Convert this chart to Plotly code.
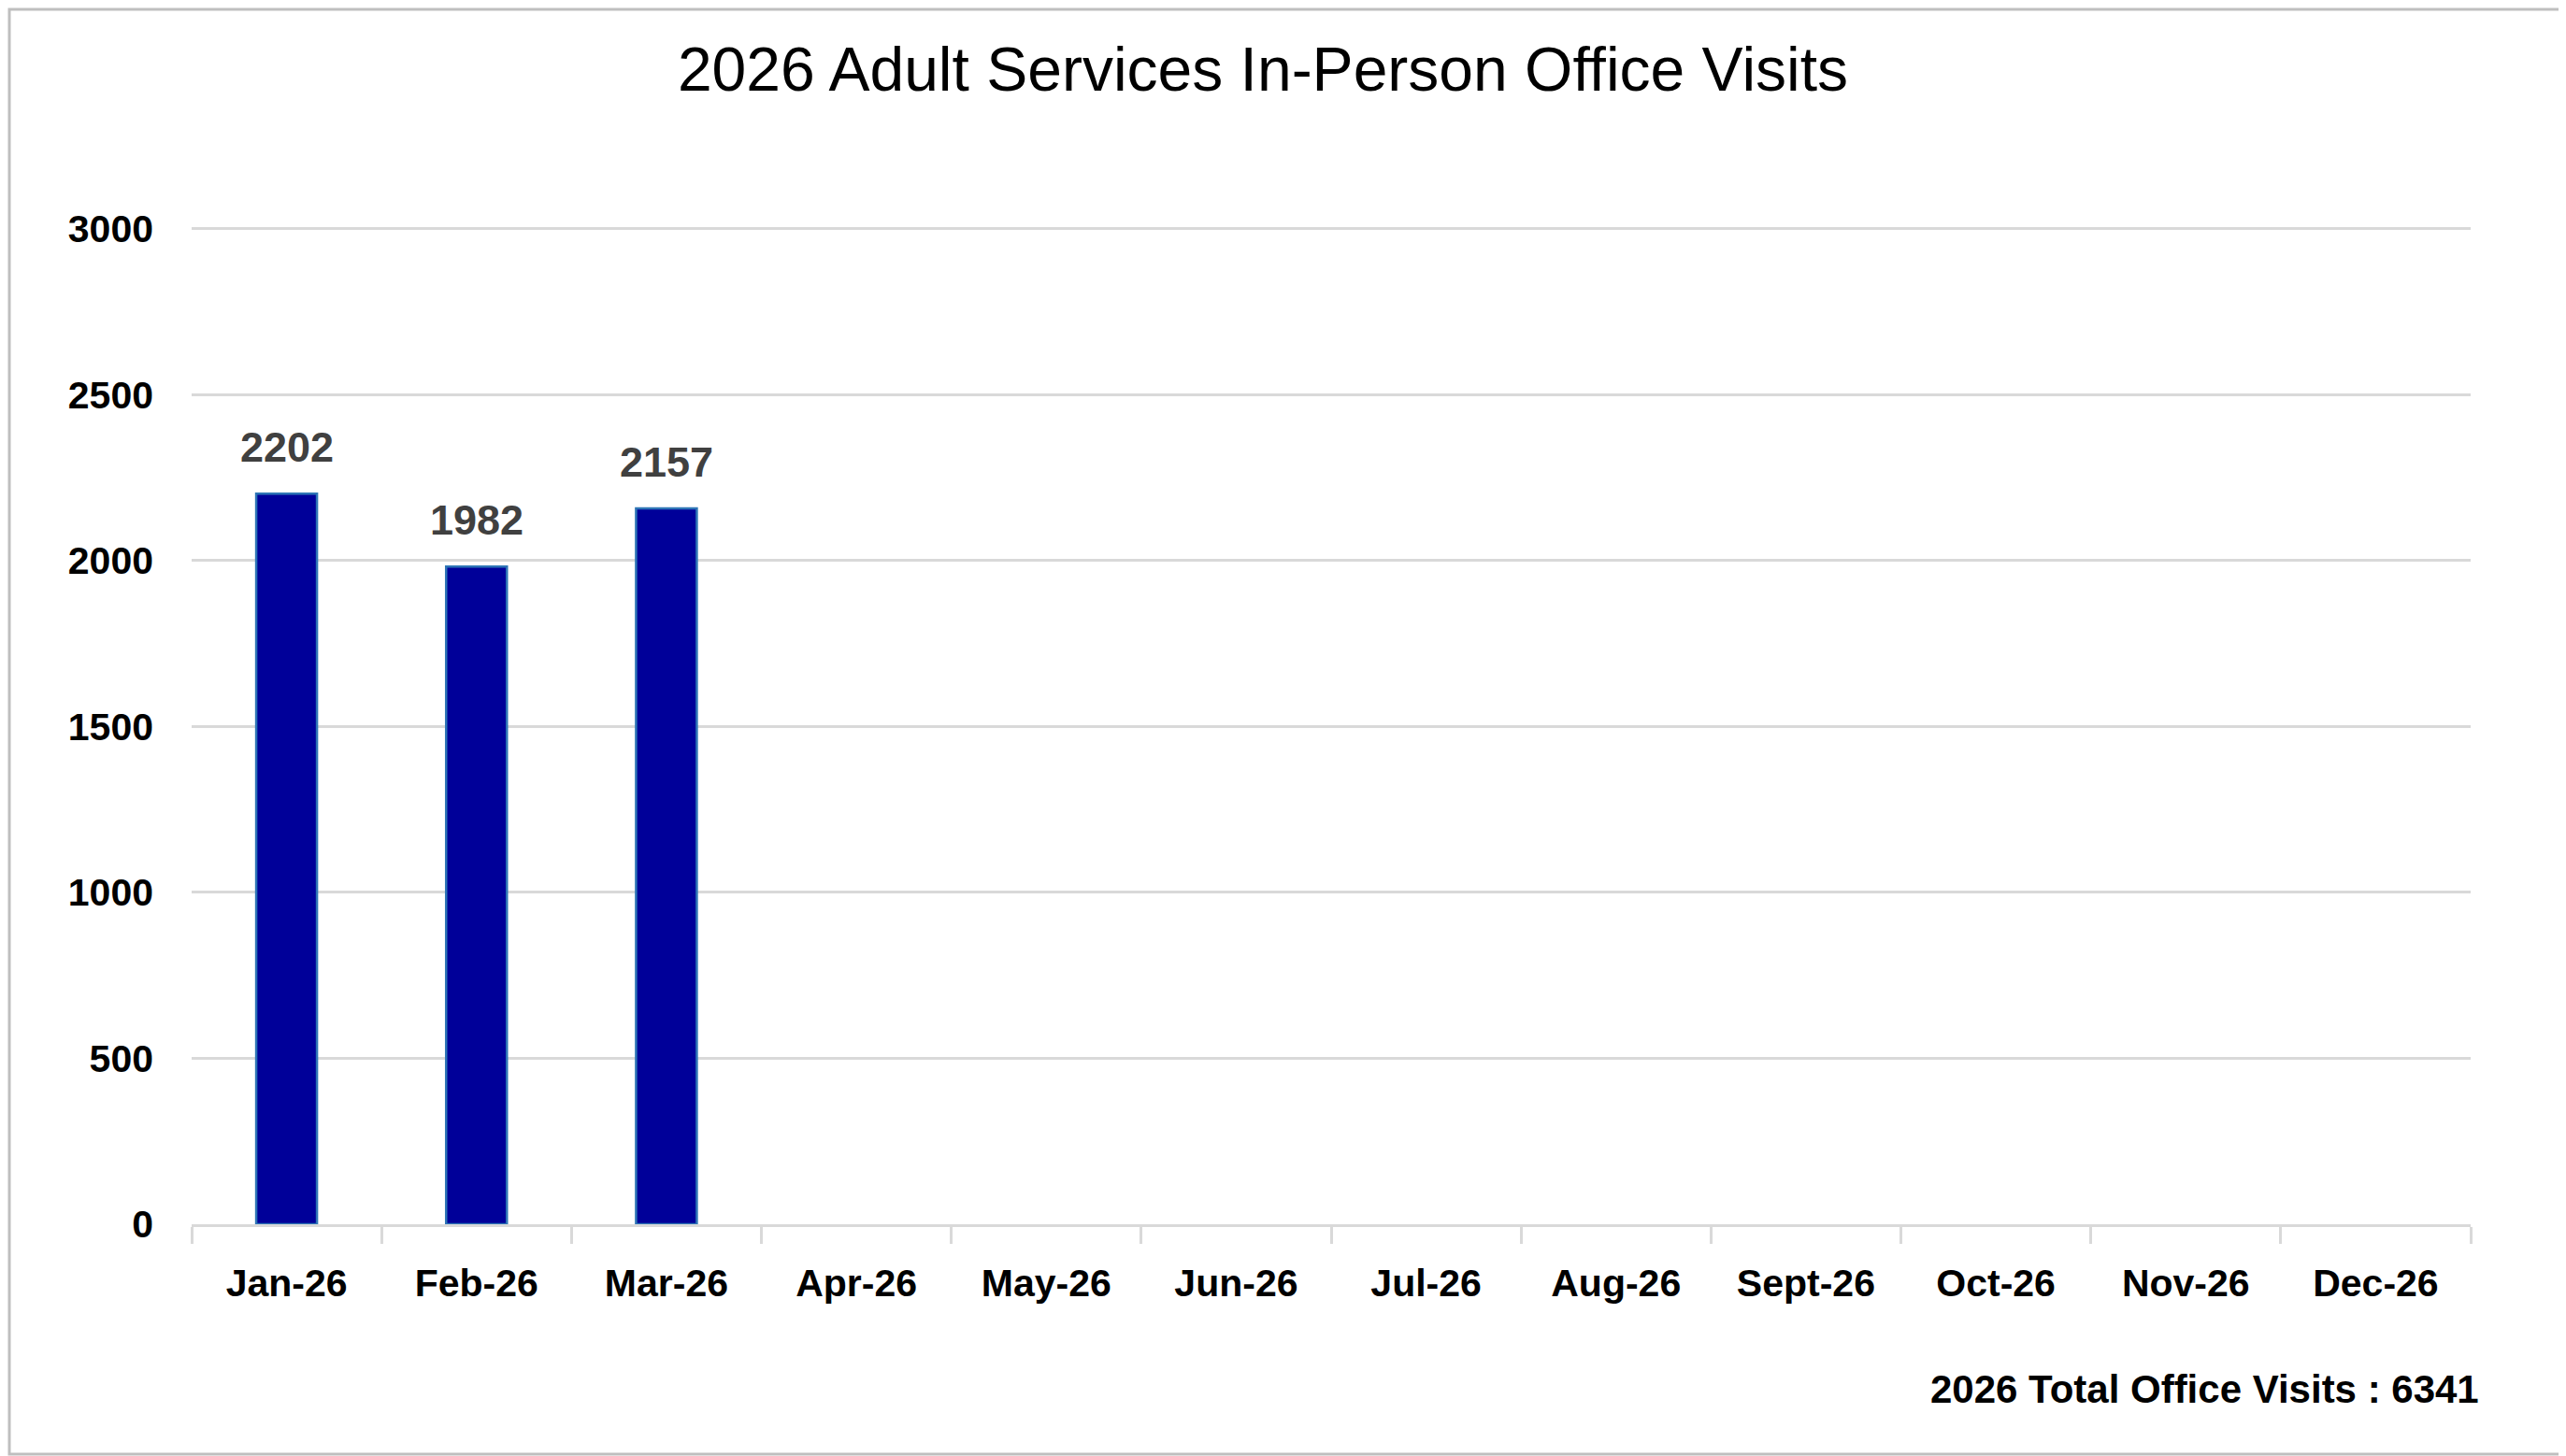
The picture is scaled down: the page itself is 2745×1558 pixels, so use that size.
import plotly.graph_objects as go

# Datos
meses = ['Jan-26', 'Feb-26', 'Mar-26', 'Apr-26', 'May-26', 'Jun-26',
         'Jul-26', 'Aug-26', 'Sept-26', 'Oct-26', 'Nov-26', 'Dec-26']
visitas = [2202, 1982, 2157, None, None, None, None, None, None, None, None, None]
total_visitas = 6341
titulo = '2026 Adult Services In-Person Office Visits'
ticks_y = [0, 500, 1000, 1500, 2000, 2500, 3000]

# el body de la página tiene 8px de margen, se compensa aquí
W, H = 2745 - 8, 1558 - 8
ml, mr, mt, mb = 197, 102, 235, 248
fuente = 'Liberation Sans, Arial, sans-serif'

fig = go.Figure()
fig.add_trace(go.Bar(
    x=meses, y=visitas,
    marker=dict(color='#000099', line=dict(color='#2E75B6', width=2.5)),
    hoverinfo='x+y',
))

# Etiquetas de datos encima de cada barra
for mes, v in zip(meses, visitas):
    if v is None:
        continue
    fig.add_annotation(
        x=mes, y=v, text=str(v), showarrow=False,
        xanchor='center', yanchor='middle', yshift=50,
        font=dict(family=fuente, size=45, color='#404040', weight='bold'),
    )

fig.update_layout(
    width=W, height=H,
    margin=dict(l=ml, r=mr, t=mt, b=mb),
    paper_bgcolor='white', plot_bgcolor='white',
    showlegend=False,
    bargap=0.68,
    title=dict(text=titulo, x=(1351 - 8) / W, xref='container', xanchor='center',
               y=1 - (74 - 8) / H, yref='container', yanchor='middle',
               font=dict(family=fuente, size=66, color='black')),
    font=dict(family=fuente),
)

# un poco por encima de 3000 para que se dibuje la última línea de rejilla
fig.update_yaxes(
    range=[0, 3005], tickvals=ticks_y,
    showgrid=True, gridcolor='#D9D9D9', gridwidth=3,
    zeroline=False, showline=False, ticks='',
    tickfont=dict(family=fuente, size=41, color='black', weight='bold'),
    ticklabelstandoff=40,
)
fig.update_xaxes(
    showline=True, linecolor='#D9D9D9', linewidth=3,
    ticks='outside', tickson='boundaries', ticklen=18, tickwidth=3, tickcolor='#D9D9D9',
    tickfont=dict(family=fuente, size=41, color='black', weight='bold'),
    ticklabelstandoff=25,
)

# Total anual
pw, ph = W - ml - mr, H - mt - mb
fig.add_annotation(
    text=f'2026 Total Office Visits : {total_visitas}',
    xref='paper', yref='paper',
    x=(2654 - 8 - ml) / pw, y=-(1486 - 8 - (H - mb)) / ph,
    xanchor='right', yanchor='middle', showarrow=False,
    font=dict(family=fuente, size=42, color='black', weight='bold'),
)

# Marco del gráfico
fig.add_shape(
    type='rect', xref='paper', yref='paper',
    x0=-(ml - 2) / pw, x1=1 + (mr - 2) / pw, y0=-(mb - 2) / ph, y1=1 + (mt - 2) / ph,
    line=dict(color='#BFBFBF', width=3), layer='below',
)

fig.write_html('out.html')
